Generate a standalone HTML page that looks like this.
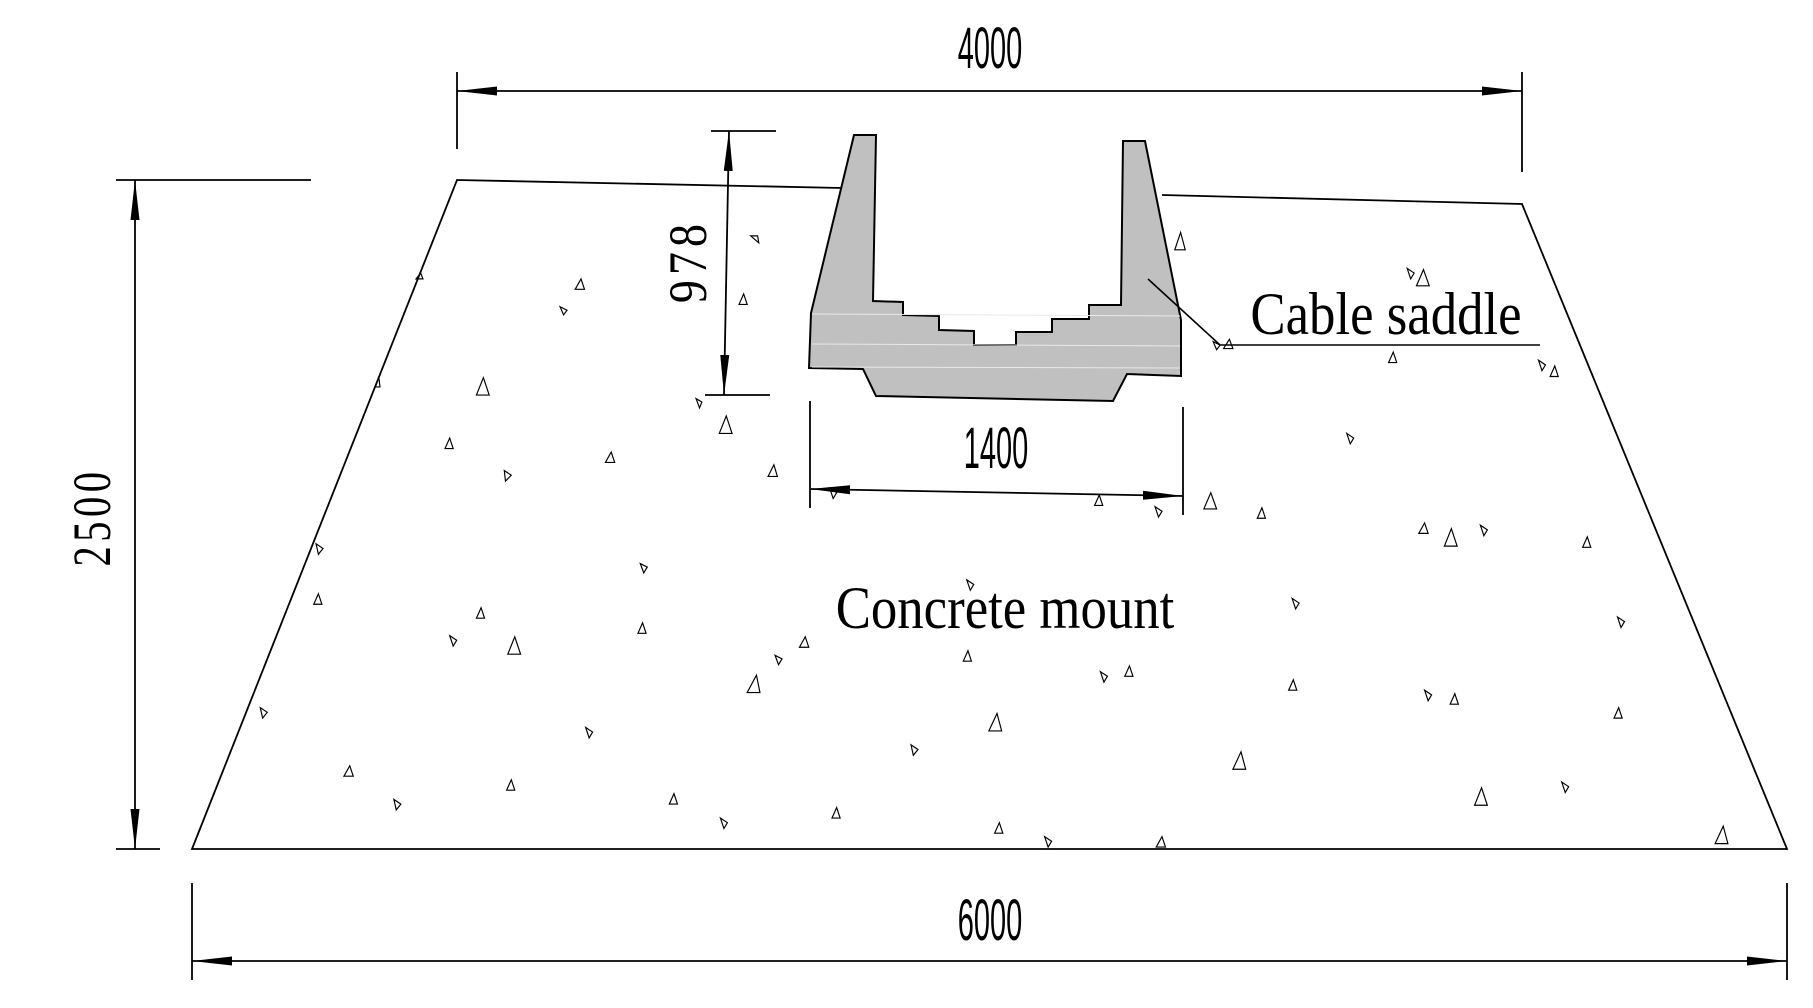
<!DOCTYPE html>
<html><head><meta charset="utf-8"><style>
html,body{margin:0;padding:0;background:#fff;}
svg{display:block;}
</style></head><body>
<svg width="1813" height="1008" viewBox="0 0 1813 1008" xmlns="http://www.w3.org/2000/svg">
<defs>
<marker id="ar" markerWidth="40" markerHeight="12" refX="40" refY="6" orient="auto-start-reverse" markerUnits="userSpaceOnUse">
<path d="M0,1.5 L40,6 L0,10.5 Z" fill="#000"/>
</marker>
</defs>
<g stroke="#000" stroke-width="1.8" fill="none">
<polyline points="842,188 457,180 192,849 1787,849 1522,204 1162,195"/>
<line x1="457" y1="72" x2="457" y2="149"/>
<line x1="1522" y1="72" x2="1522" y2="172"/>
<line x1="457" y1="91" x2="1522" y2="91" marker-end="url(#ar)" marker-start="url(#ar)"/>
<line x1="192" y1="883" x2="192" y2="980"/>
<line x1="1787" y1="883" x2="1787" y2="980"/>
<line x1="192" y1="961" x2="1787" y2="961" marker-end="url(#ar)" marker-start="url(#ar)"/>
<line x1="116" y1="180" x2="311" y2="180"/>
<line x1="116" y1="849" x2="160" y2="849"/>
<line x1="135" y1="180" x2="135" y2="849" marker-end="url(#ar)" marker-start="url(#ar)"/>
<line x1="711" y1="131" x2="776" y2="131"/>
<line x1="705" y1="395" x2="770" y2="395"/>
<line x1="729" y1="131" x2="724" y2="395" marker-end="url(#ar)" marker-start="url(#ar)"/>
<line x1="810" y1="401" x2="810" y2="508"/>
<line x1="1183" y1="407" x2="1183" y2="515"/>
<line x1="810" y1="489" x2="1183" y2="496" marker-end="url(#ar)" marker-start="url(#ar)"/>
</g>
<polygon points="854,135 876,135 873,301 903,302 903,315 939,316 939,330 974,331 974,345 1016,345 1016,332 1052,332 1052,319 1089,319 1089,305 1121,305 1123,141 1145,141 1181,320 1181,376 1127,374 1113,401 876,396 863,369 809,368 811,313" fill="#c0c0c0" stroke="#000" stroke-width="2"/>
<g stroke="#e8e8e8" stroke-width="1">
<line x1="812" y1="314" x2="1180" y2="316"/>
<line x1="812" y1="344" x2="1180" y2="346"/>
<line x1="812" y1="367" x2="1180" y2="368"/>
</g>
<polyline points="1148,279 1220,345 1540,345" fill="none" stroke="#000" stroke-width="1.6"/>
<g font-family="Liberation Sans, sans-serif" fill="#000" font-size="58">
<text x="0" y="0" text-anchor="middle" transform="translate(990,68) scale(0.5,1)">4000</text>
<text x="0" y="0" text-anchor="middle" transform="translate(990,940) scale(0.5,1)">6000</text>
<text x="0" y="0" text-anchor="middle" transform="translate(996,468) scale(0.5,1)">1400</text>
</g>
<g font-family="Liberation Serif, serif" fill="#000" font-size="54">
<text x="0" y="0" text-anchor="middle" transform="translate(110,517) rotate(-90) scale(0.75,1)" letter-spacing="6">2500</text>
<text x="0" y="0" text-anchor="middle" transform="translate(706,261) rotate(-90) scale(0.85,1)" letter-spacing="6">978</text>
</g>
<g font-family="Liberation Serif, serif" fill="#000" font-size="60">
<text x="0" y="0" text-anchor="middle" transform="translate(1386,334) scale(0.88,1)">Cable saddle</text>
<text x="0" y="0" text-anchor="middle" transform="translate(1005,628) scale(0.88,1)">Concrete mount</text>
</g>
<g transform="scale(1.162)" fill="none" stroke="#000" stroke-width="1">
<path d="M362,235 l-4,5 l6,0 z"/><path d="M500,240 l-5,9 l8,0 z"/><path d="M488,267 l-6,-3 l3,7 z"/>
<path d="M416,325 l-6,15 l11,0 z"/><path d="M326,324 l-3,9 l4,0 z"/><path d="M387,377 l-4,9 l7,0 z"/>
<path d="M440,409 l-6,-4 l1,9 z"/><path d="M526,389 l-5,9 l8,0 z"/><path d="M652,203 l-6,0 l7,6 z"/>
<path d="M640,253 l-4,9 l7,0 z"/><path d="M604,346 l-5,-3 l3,8 z"/><path d="M625,358 l-6,15 l11,0 z"/>
<path d="M666,400 l-5,10 l8,0 z"/><path d="M278,472 l-6,-4 l2,9 z"/><path d="M274,511 l-4,9 l7,0 z"/>
<path d="M414,523 l-4,9 l7,0 z"/><path d="M393,551 l-6,-4 l3,9 z"/><path d="M443,548 l-6,15 l11,0 z"/>
<path d="M557,488 l-6,-3 l3,8 z"/><path d="M553,536 l-4,9 l7,0 z"/><path d="M230,613 l-6,-4 l2,9 z"/>
<path d="M301,659 l-5,9 l8,0 z"/><path d="M345,692 l-6,-4 l2,9 z"/><path d="M440,671 l-4,9 l7,0 z"/>
<path d="M510,630 l-6,-4 l3,9 z"/><path d="M580,683 l-4,9 l7,0 z"/><path d="M626,708 l-6,-4 l3,9 z"/>
<path d="M720,695 l-4,9 l7,0 z"/><path d="M651,581 l-8,15 l11,0 z"/><path d="M673,567 l-6,-3 l3,8 z"/>
<path d="M693,548 l-5,9 l8,0 z"/><path d="M790,645 l-6,-4 l2,9 z"/><path d="M858,614 l-7,15 l11,0 z"/>
<path d="M860,708 l-4,9 l7,0 z"/><path d="M905,724 l-6,-4 l3,9 z"/><path d="M1000,720 l-5,9 l8,0 z"/>
<path d="M833,560 l-4,9 l7,0 z"/><path d="M838,503 l-6,-4 l3,9 z"/><path d="M953,582 l-6,-4 l3,9 z"/>
<path d="M972,573 l-4,9 l7,0 z"/><path d="M1068,647 l-7,15 l11,0 z"/><path d="M1113,585 l-4,9 l7,0 z"/>
<path d="M1118,519 l-6,-4 l3,9 z"/><path d="M1086,437 l-4,9 l7,0 z"/><path d="M1042,424 l-6,14 l11,0 z"/>
<path d="M946,426 l-4,9 l7,0 z"/><path d="M1000,440 l-6,-4 l3,9 z"/><path d="M1165,377 l-6,-4 l3,9 z"/>
<path d="M1199,303 l-4,9 l7,0 z"/><path d="M1217,235 l-6,-4 l3,9 z"/><path d="M1225,232 l-6,14 l11,0 z"/>
<path d="M1226,450 l-5,9 l8,0 z"/><path d="M1249,455 l-6,15 l11,0 z"/><path d="M1280,456 l-6,-4 l3,9 z"/>
<path d="M1366,462 l-4,9 l7,0 z"/><path d="M1398,535 l-6,-4 l3,9 z"/><path d="M1393,609 l-4,9 l7,0 z"/>
<path d="M1232,598 l-6,-4 l3,9 z"/><path d="M1252,597 l-4,9 l7,0 z"/><path d="M1350,677 l-6,-4 l3,9 z"/>
<path d="M1275,678 l-6,15 l11,0 z"/><path d="M1483,711 l-7,15 l11,0 z"/><path d="M1330,314 l-6,-4 l3,9 z"/>
<path d="M1338,315 l-4,9 l7,0 z"/><path d="M1016,200 l-5,15 l9,0 z"/><path d="M720,424 l-6,-4 l3,9 z"/>
<path d="M1050,297 l-6,-3 l3,7 z"/><path d="M1058,292 l-5,8 l8,0 z"/>
</g>
</svg>
</body></html>
